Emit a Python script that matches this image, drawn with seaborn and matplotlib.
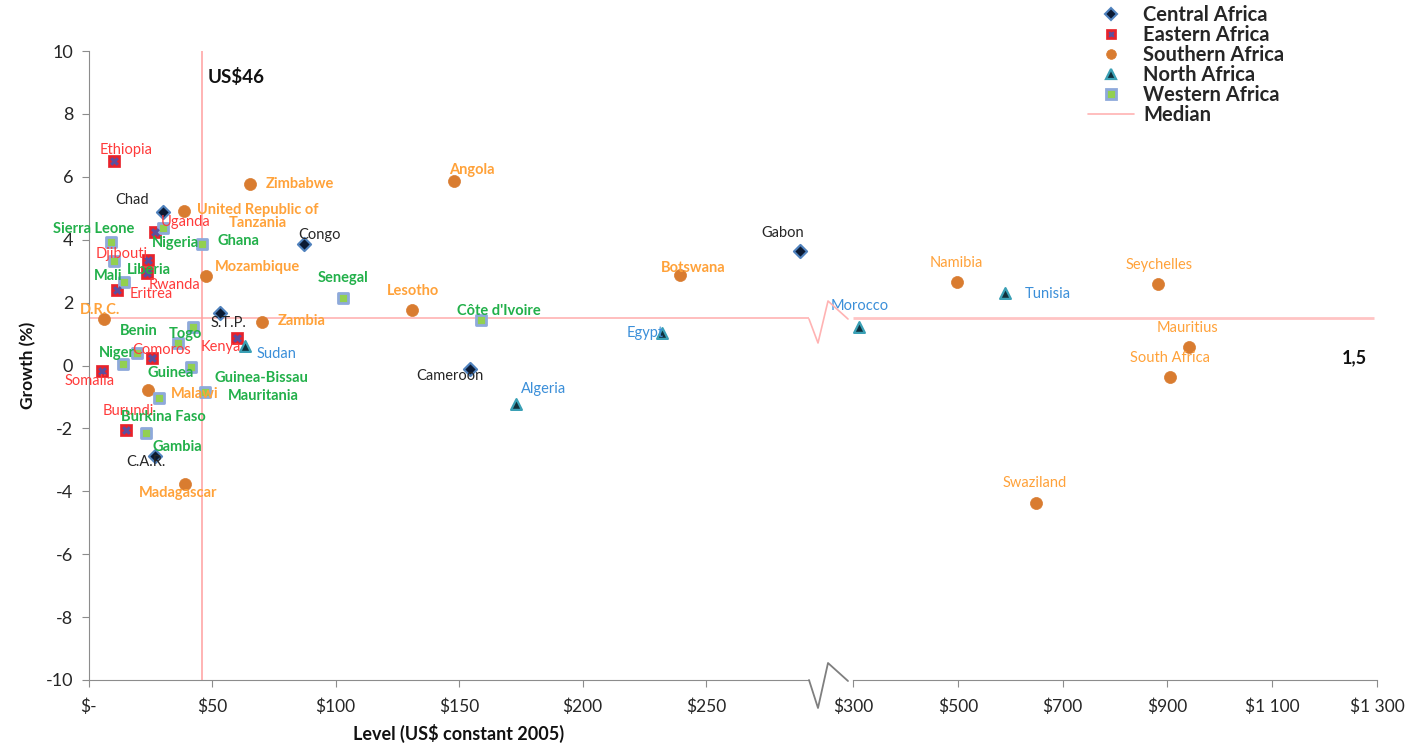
import matplotlib
matplotlib.use('Agg')
import matplotlib.pyplot as plt
from matplotlib.lines import Line2D
import seaborn as sns
import pandas as pd

sns.set_style('white')
plt.rcParams['font.family'] = ['Lato', 'DejaVu Sans']
plt.rcParams['axes.unicode_minus'] = False

# --- data ---
countries = ['Chad', 'Congo', 'S.T.P.', 'Cameroon', 'C.A.R.', 'Gabon',
             'Ethiopia', 'Uganda', 'Djibouti', 'Rwanda', 'Eritrea', 'Kenya', 'Comoros', 'Somalia', 'Burundi',
             'Zimbabwe', 'Angola', 'United Republic of\nTanzania', 'Mozambique', 'Botswana', 'Lesotho',
             'D.R.C.', 'Zambia', 'Malawi', 'Madagascar', 'Namibia', 'Seychelles', 'Mauritius',
             'South Africa', 'Swaziland',
             'Sudan', 'Algeria', 'Egypt', 'Morocco', 'Tunisia',
             'Sierra Leone', 'Nigeria', 'Ghana', 'Liberia', 'Mali', 'Senegal', "Côte d'Ivoire", 'Benin',
             'Togo', 'Niger', 'Guinea', 'Guinea-Bissau', 'Mauritania', 'Burkina Faso', 'Gambia']
regions = ['Central Africa'] * 6 + ['Eastern Africa'] * 9 + ['Southern Africa'] * 15 + \
          ['North Africa'] * 5 + ['Western Africa'] * 15
level = [30.2, 87.2, 53.2, 154.5, 26.9, 288.1,
         10.3, 26.9, 24.1, 23.7, 11.5, 60.1, 25.7, 5.5, 15.2,
         65.4, 147.8, 38.7, 47.6, 239.5, 131.0, 6.3, 70.2, 24.1, 39.1, 498, 882, 941, 905, 649,
         63.4, 173.1, 232.2, 311, 590,
         9.1, 30.2, 46.0, 10.3, 14.4, 103.0, 158.9, 36.2, 42.3, 19.6, 41.5, 14.0, 47.2, 28.5, 23.3]
growth = [4.89, 3.87, 1.68, -0.10, -2.89, 3.65,
          6.51, 4.25, 3.37, 2.95, 2.41, 0.89, 0.25, -0.19, -2.06,
          5.78, 5.87, 4.92, 2.83, 2.89, 1.75, 1.49, 1.37, -0.79, -3.78, 2.67, 2.60, 0.60, -0.35, -4.38,
          0.63, -1.21, 1.02, 1.21, 2.32,
          3.94, 4.38, 3.87, 3.33, 2.67, 2.16, 1.46, 0.73, 1.21, 0.41, -0.06, 0.06, -0.83, -1.02, -2.16]
median_growth = 1.5
threshold_level = 46

df = pd.DataFrame({'country': countries, 'region': regions, 'level': level, 'growth': growth})

# label offsets in pixels (dx right, dy down) from the marker
label_off = {
    'Chad': (-31, -12), 'Congo': (16, -9), 'S.T.P.': (9, 10), 'Cameroon': (-20, 7), 'C.A.R.': (-9, 6),
    'Gabon': (-17, -18),
    'Ethiopia': (12, -11), 'Uganda': (31, -10), 'Djibouti': (-26, -6), 'Rwanda': (27, 12),
    'Eritrea': (34, 4), 'Kenya': (-16, 9), 'Comoros': (10, -8), 'Somalia': (-12, 10), 'Burundi': (2, -19),
    'Zimbabwe': (50, 0), 'Angola': (18, -11), 'United Republic of\nTanzania': (74, 6),
    'Mozambique': (51, -9), 'Botswana': (13, -7), 'Lesotho': (1, -19), 'D.R.C.': (-4, -9),
    'Zambia': (40, -1), 'Malawi': (47, 4), 'Madagascar': (-7, 9), 'Namibia': (0, -19),
    'Seychelles': (1, -19), 'Mauritius': (-1, -19), 'South Africa': (0, -19), 'Swaziland': (-1, -20),
    'Sudan': (31, 8), 'Algeria': (28, -15), 'Egypt': (-17, 0), 'Morocco': (1, -21), 'Tunisia': (43, 1),
    'Sierra Leone': (-17, -13), 'Nigeria': (12, 15), 'Ghana': (36, -3), 'Liberia': (35, 9),
    'Mali': (-16, -6), 'Senegal': (0, -20), "Côte d'Ivoire": (18, -9), 'Benin': (-39, -12),
    'Togo': (-8, 7), 'Niger': (-20, 0), 'Guinea': (-20, 6), 'Guinea-Bissau': (138, 14),
    'Mauritania': (58, 4), 'Burkina Faso': (4, 19), 'Gambia': (31, 14),
}

styles = {
    'Central Africa': dict(marker='D', s=45, color='#0b1a33', edgecolor='#4f81bd', linewidth=1.5),
    'Eastern Africa': dict(marker='s', s=75, color='#e8222b', edgecolor='#e8222b', linewidth=0.5),
    'Southern Africa': dict(marker='o', s=75, color='#d97c30', edgecolor='#d97c30', linewidth=0.5),
    'North Africa': dict(marker='^', s=60, color='#10303c', edgecolor='#3aa0b5', linewidth=1.6),
    'Western Africa': dict(marker='s', s=60, color='#92d050', edgecolor='#8ea9db', linewidth=2.0),
}
text_style = {
    'Central Africa': ('#262626', 'normal'),
    'Eastern Africa': ('#ff3b3b', 'normal'),
    'Southern Africa': ('#ffa23a', 'bold'),
    'North Africa': ('#3b8fd9', 'normal'),
    'Western Africa': ('#22b04a', 'bold'),
}

W, H = 1413, 749
fig = plt.figure(figsize=(W / 100, H / 100), dpi=100)


def px_rect(x0, y0, x1, y1):
    return [x0 / W, 1 - y1 / H, (x1 - x0) / W, (y1 - y0) / H]


ax1 = fig.add_axes(px_rect(88.5, 51, 809, 680))
ax2 = fig.add_axes(px_rect(853, 51, 1377, 680))
split = 295

for reg, st in styles.items():
    sub = df[df.region == reg]
    for ax, part in ((ax1, sub[sub.level <= split]), (ax2, sub[sub.level > split])):
        if part.empty:
            continue
        sns.scatterplot(data=part, x='level', y='growth', ax=ax, legend=False, zorder=4, **st)
        if reg == 'Eastern Africa':
            sns.scatterplot(data=part, x='level', y='growth', ax=ax, legend=False, zorder=5,
                            marker='X', s=40, color='#5b4f9e', linewidth=0)

# country labels
for _, r in df.iterrows():
    ax = ax1 if r.level <= split else ax2
    dx, dy = label_off[r.country]
    col, wt = text_style[r.region]
    if r.level > split:
        wt = 'normal'
    ax.annotate(r.country, (r.level, r.growth), xytext=(dx, -dy), textcoords='offset pixels',
                ha='center', va='center', color=col, fontsize=10.5, fontweight=wt,
                linespacing=0.95, zorder=6)

# medians / threshold
ax1.axhline(median_growth, color='#ffb3b3', lw=1.2, zorder=1)
ax2.hlines(median_growth, 300, 1294, color='#ffc4c4', lw=2, zorder=1)
ax1.axvline(threshold_level, color='#ff9f9f', lw=1.1, zorder=1)
ax1.text(threshold_level + 2.3, 9.17, 'US$46', fontweight='bold', fontsize=13.5, va='center', color='#111111')
ax2.annotate('1,5', (1294, median_growth), xytext=(-7, -39), textcoords='offset pixels',
             ha='right', va='center', fontweight='bold', fontsize=13, color='#111111')

# axes styling
for ax in (ax1, ax2):
    ax.set_ylim(-10, 10)
    ax.set_xlabel('')
    ax.set_ylabel('')
    for sp in ('top', 'right'):
        ax.spines[sp].set_visible(False)
    ax.spines['bottom'].set_color('#8c8c8c')
    ax.tick_params(axis='x', direction='out', length=5, color='#8c8c8c', labelsize=12.5,
                   labelcolor='#262626', bottom=True, pad=8)
ax1.set_xlim(0, 291.7)
ax1.set_xticks([0, 50, 100, 150, 200, 250])
ax1.set_xticklabels(['$-', '$50', '$100', '$150', '$200', '$250'])
ax1.set_yticks(range(-10, 11, 2))
ax1.spines['left'].set_color('#8c8c8c')
ax1.tick_params(axis='y', direction='out', length=5, color='#8c8c8c', labelsize=13,
                labelcolor='#262626', left=True, pad=6)
ax2.set_xlim(300, 1300)
ax2.set_xticks([300, 500, 700, 900, 1100, 1300])
ax2.set_xticklabels(['$300', '$500', '$700', '$900', '$1 100', '$1 300'])
ax2.spines['left'].set_visible(False)
ax2.set_yticks([])

# axis break marks
def zig(pts, color, lw):
    xs = [p[0] / W for p in pts]
    ys = [1 - p[1] / H for p in pts]
    fig.add_artist(Line2D(xs, ys, transform=fig.transFigure, color=color, lw=lw))


zig([(809, 680), (818, 708), (828, 663), (848, 681)], '#7f7f7f', 1.3)
zig([(809, 319), (818, 343), (828, 301), (848, 319)], '#ffb3b3', 1.2)

fig.text(28 / W, 1 - 365 / H, 'Growth (%)', rotation=90, ha='center', va='center',
         fontweight='bold', fontsize=12.5, color='#111111')
fig.text(459 / W, 1 - 733 / H, 'Level (US$ constant 2005)', ha='center', va='center',
         fontweight='bold', fontsize=13, color='#111111')

# legend
handles = []
for reg, st in styles.items():
    h = Line2D([], [], ls='none', marker=st['marker'], mfc=st['color'], mec=st['edgecolor'],
               mew=st['linewidth'], ms=7 if st['marker'] != 'D' else 6)
    if reg == 'Eastern Africa':
        h = (h, Line2D([], [], ls='none', marker='X', mfc='#5b4f9e', mec='none', ms=5))
    handles.append(h)
handles.append(Line2D([], [], color='#ffb3b3', lw=1.2))
labels = list(styles.keys()) + ['Median']
fig.legend(handles, labels, loc='upper left', bbox_to_anchor=(1080 / W, 1 + 3 / H), frameon=False,
           prop=dict(size=14.5, weight='bold'), labelspacing=0.0, handlelength=2.3,
           handletextpad=0.45, borderaxespad=0)

fig.savefig('out.png', dpi=100)
